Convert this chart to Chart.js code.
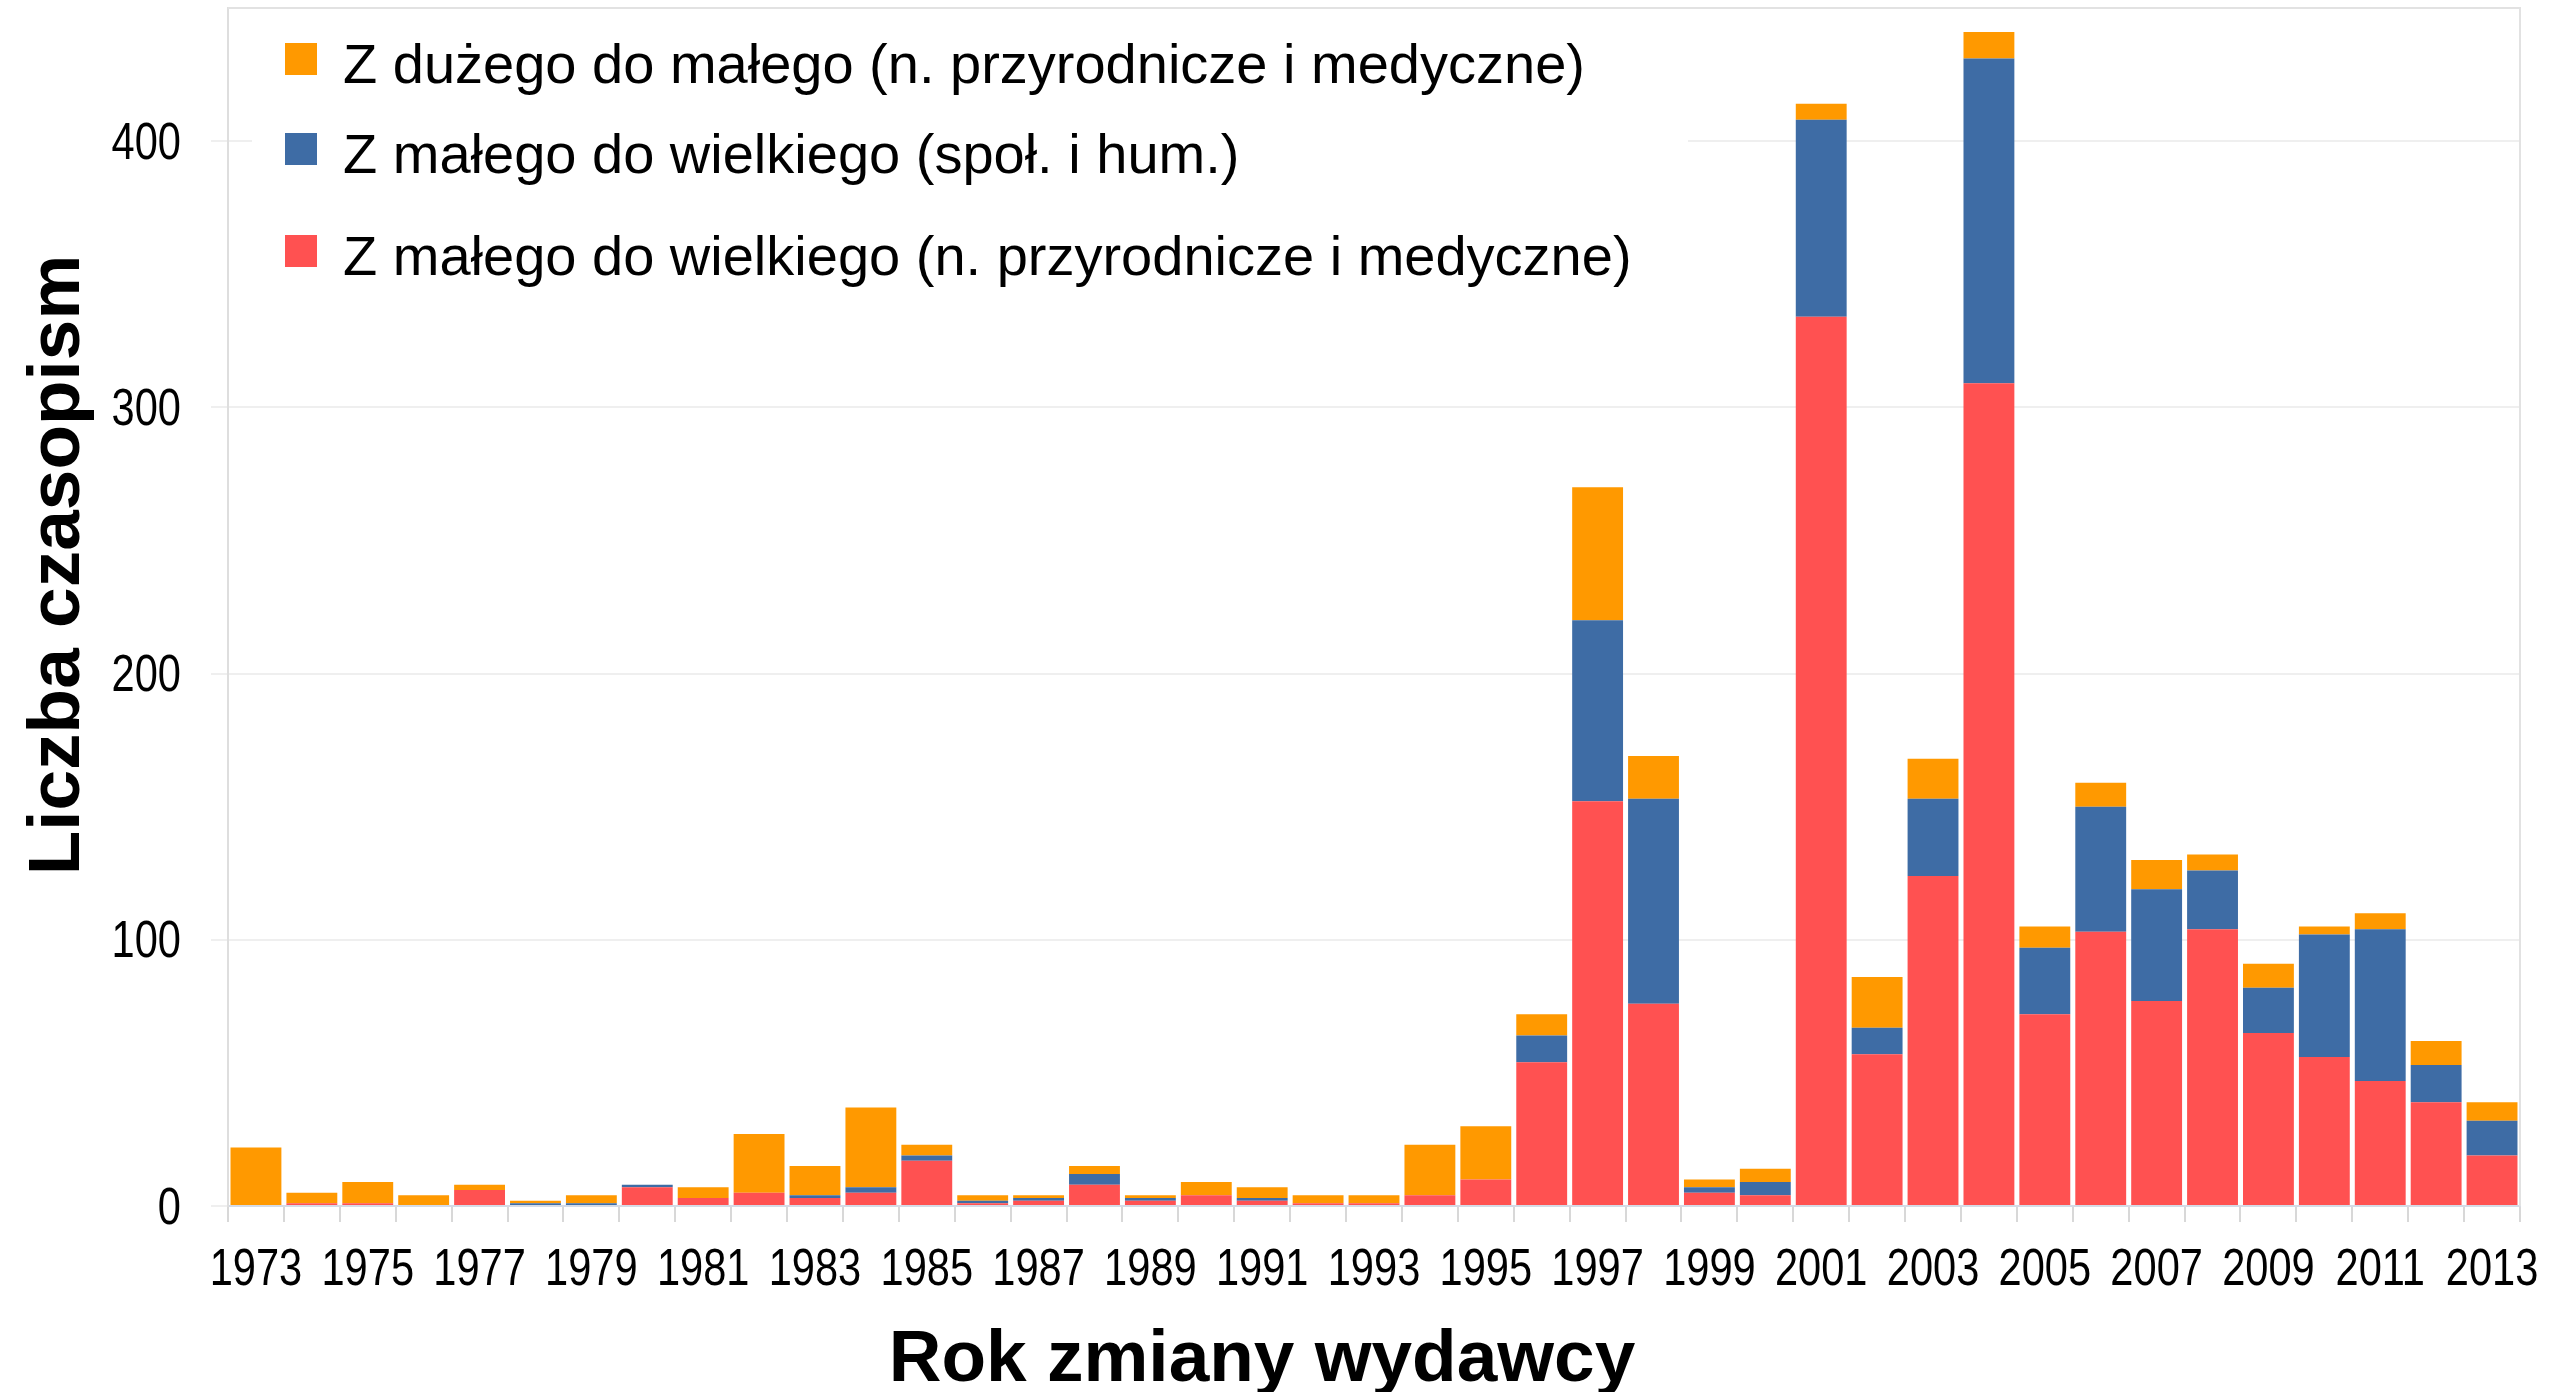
<!DOCTYPE html>
<html>
<head>
<meta charset="utf-8">
<script src="https://cdn.jsdelivr.net/npm/chart.js@4"></script>
<style>
  html, body { margin: 0; padding: 0; background: #fff; }
  #wrap { width: 2569px; height: 1392px; position: relative; }
</style>
</head>
<body>
<div id="wrap"><canvas id="chart"></canvas></div>
<script>
const years = [
  "1973", "1974", "1975", "1976", "1977", "1978", "1979", "1980", "1981", "1982",
  "1983", "1984", "1985", "1986", "1987", "1988", "1989", "1990", "1991", "1992",
  "1993", "1994", "1995", "1996", "1997", "1998", "1999", "2000", "2001", "2002",
  "2003", "2004", "2005", "2006", "2007", "2008", "2009", "2010", "2011", "2012", "2013",
];

// small -> big, natural & medical sciences (bottom of stack)
const smallToBigNat = [
  0, 1, 1, 0, 6, 0, 0, 7, 3, 5,
  3, 5, 17, 1, 2, 8, 2, 4, 2, 1,
  1, 4, 10, 54, 152, 76, 5, 4, 334, 57,
  124, 309, 72, 103, 77, 104, 65, 56, 47, 39, 19,
];

// small -> big, social sciences & humanities
const smallToBigSoc = [
  0, 0, 0, 0, 0, 1, 1, 1, 0, 0,
  1, 2, 2, 1, 1, 4, 1, 0, 1, 0,
  0, 0, 0, 10, 68, 77, 2, 5, 74, 10,
  29, 122, 25, 47, 42, 22, 17, 46, 57, 14, 13,
];

// big -> small, natural & medical sciences
const bigToSmallNat = [
  22, 4, 8, 4, 2, 1, 3, 0, 4, 22,
  11, 30, 4, 2, 1, 3, 1, 5, 4, 3,
  3, 19, 20, 8, 50, 16, 3, 5, 6, 19,
  15, 10, 8, 9, 11, 6, 9, 3, 6, 9, 7,
];

const yTicks = [0, 100, 200, 300, 400];

const sans = "'Liberation Sans', Arial, Helvetica, sans-serif";
const tickFont = "52px " + sans;
const squeeze = 0.8; // reference uses a condensed face for tick numbers

// condensed tick labels, placed from the chart's own scales
function drawNarrow(ctx, text, x, y, align) {
  ctx.save();
  ctx.translate(x, y);
  ctx.scale(squeeze, 1);
  ctx.textAlign = align;
  ctx.fillText(text, 0, 0);
  ctx.restore();
}

// frame, tick labels, legend box and axis titles
const decorations = {
  id: "decorations",
  afterDraw(chart) {
    const { ctx, chartArea } = chart;
    const xs = chart.scales.x;
    const ys = chart.scales.y;
    ctx.save();

    // top + right frame lines
    ctx.strokeStyle = "#e2e2e2";
    ctx.lineWidth = 2;
    ctx.beginPath();
    ctx.moveTo(chartArea.left, chartArea.top);
    ctx.lineTo(chartArea.right, chartArea.top);
    ctx.lineTo(chartArea.right, chartArea.bottom);
    ctx.stroke();

    // tick labels
    ctx.fillStyle = "#000";
    ctx.font = tickFont;
    ctx.textBaseline = "alphabetic";
    years.forEach((yr, i) => {
      if (i % 2 === 0) drawNarrow(ctx, yr, xs.getPixelForTick(i), chartArea.bottom + 79, "center");
    });
    yTicks.forEach((v) => {
      drawNarrow(ctx, String(v), chartArea.left - 47, ys.getPixelForValue(v) + 17.5, "right");
    });

    // legend on white box inside plot
    ctx.fillStyle = "#fff";
    ctx.fillRect(chartArea.left + 24, chartArea.top + 6, 1436, 290);
    const rows = [63, 153, 255];
    const sets = chart.data.datasets.slice().reverse();
    ctx.font = "56px " + sans;
    ctx.textAlign = "left";
    sets.forEach((ds, i) => {
      const cy = rows[i];
      ctx.fillStyle = ds.backgroundColor;
      ctx.fillRect(285, cy - 20, 32, 32);
      ctx.fillStyle = "#000";
      ctx.fillText(ds.label, 343, cy + 20);
    });

    // axis titles
    ctx.font = "bold 73px " + sans;
    ctx.fillStyle = "#000";
    ctx.textAlign = "center";
    ctx.fillText("Rok zmiany wydawcy", 1262, 1381);

    ctx.translate(79, 565);
    ctx.rotate(-Math.PI / 2);
    ctx.fillText("Liczba czasopism", 0, 0);
    ctx.restore();
  },
};

function noPadding(s) {
  s.paddingTop = 0;
  s.paddingBottom = 0;
  s.paddingLeft = 0;
  s.paddingRight = 0;
}

new Chart(document.getElementById("chart"), {
  type: "bar",
  data: {
    labels: years,
    datasets: [
      {
        label: "Z małego do wielkiego (n. przyrodnicze i medyczne)",
        data: smallToBigNat,
        backgroundColor: "#ff5151",
      },
      {
        label: "Z małego do wielkiego (społ. i hum.)",
        data: smallToBigSoc,
        backgroundColor: "#3e6ca5",
      },
      {
        label: "Z dużego do małego (n. przyrodnicze i medyczne)",
        data: bigToSmallNat,
        backgroundColor: "#ff9900",
      },
    ],
  },
  options: {
    responsive: true,
    maintainAspectRatio: false,
    animation: false,
    layout: { padding: { top: 8, right: 49, left: 0, bottom: 0 } },
    datasets: {
      bar: { categoryPercentage: 1, barPercentage: 0.91, borderWidth: 0 },
    },
    plugins: {
      legend: { display: false },
      tooltip: { enabled: false },
    },
    scales: {
      x: {
        stacked: true,
        offset: true,
        afterFit: (s) => { noPadding(s); s.height = 186; },
        grid: {
          offset: true,
          drawOnChartArea: false,
          drawTicks: true,
          tickLength: 16,
          color: "#d8d8d8",
          lineWidth: 2,
        },
        border: { color: "#d5dbe6", width: 2 },
        ticks: { display: false, autoSkip: false, maxRotation: 0 },
      },
      y: {
        stacked: true,
        min: 0,
        max: 450,
        afterFit: (s) => { noPadding(s); s.width = 228; },
        afterBuildTicks: (s) => {
          s.ticks = yTicks.map((v) => ({ value: v }));
        },
        grid: {
          color: "#efefef",
          lineWidth: 2,
          drawTicks: true,
          tickLength: 17,
        },
        border: { color: "#dedede", width: 2 },
        ticks: { display: false },
      },
    },
  },
  plugins: [decorations],
});
</script>
</body>
</html>
